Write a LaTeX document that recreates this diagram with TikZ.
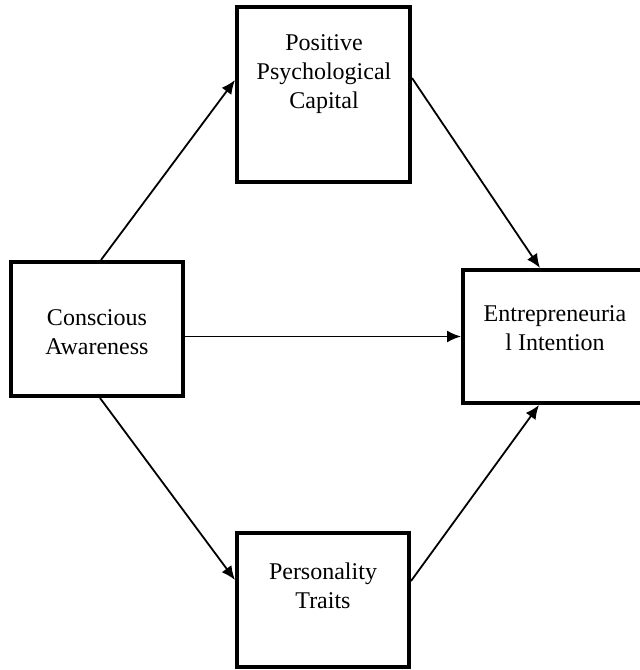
\documentclass[tikz,border=0pt]{standalone}
\usepackage{fontspec}
\setmainfont{Liberation Serif}
\usetikzlibrary{arrows.meta}

\tikzset{
    box/.style={draw, line width=4pt, inner sep=0pt},
    conn/.style={line width=1.8pt, -{Latex[length=14pt, width=12pt]}},
    lbl/.style={align=center, inner sep=0pt, font=\fontsize{24}{29}\selectfont},
}

\begin{document}
\begin{tikzpicture}[x=1pt, y=-1pt]
        \useasboundingbox (0, 0) rectangle (640, 670);
        \node[box, minimum width=172pt, minimum height=134pt] (ca)  at ( 97, 329)   {};
        \node[box, minimum width=173pt, minimum height=175pt] (ppc) at (323.5, 94.5) {};
        \node[box, minimum width=180pt, minimum height=133pt] (ei)  at (553, 336.5) {};
        \node[box, minimum width=172pt, minimum height=134pt] (pt)  at (323, 600)   {};
        \node[lbl] (ca-text)  at ( 97, 332) {Conscious\\Awareness};
        \node[lbl] (ppc-text) at (324,  74) {Positive\\Psychological\\Capital};
        \node[lbl] (ei-text)  at (555, 328) {Entrepreneuria\\l Intention};
        \node[lbl] (pt-text)  at (323, 586) {Personality\\Traits};
        \draw[conn] ([xshift=92pt]ca.north west) -- ([yshift=-75pt]ppc.north west);
        \draw[conn] (ca.east |- ei.west) -- (ei.west);
        \draw[conn] ([xshift=91pt]ca.south west) -- ([yshift=-49pt]pt.north west);
        \draw[conn] ([yshift=-73pt]ppc.north east) -- ([xshift=79pt]ei.north west);
        \draw[conn] ([yshift=-50pt]pt.north east) -- ([xshift=78pt]ei.south west);
    \end{tikzpicture}
\end{document}
